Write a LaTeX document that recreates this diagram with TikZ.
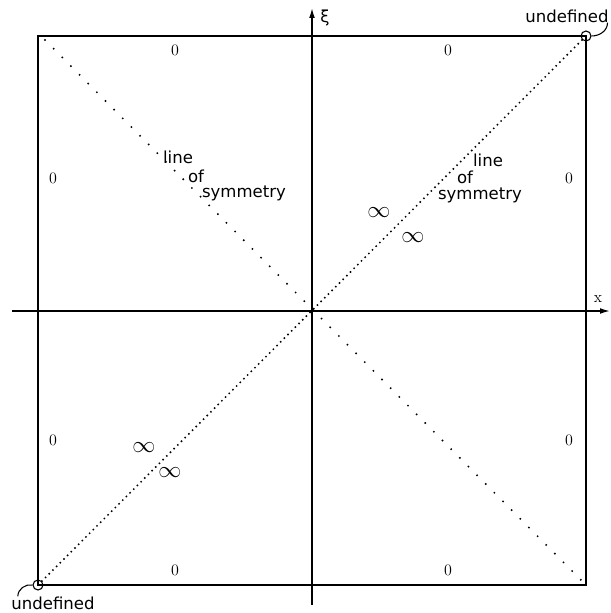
\documentclass[tikz,border=0pt]{standalone}
\usepackage{fontspec}
\newfontfamily\labelfont{DejaVu Sans}
\usetikzlibrary{arrows.meta,positioning}

\begin{document}
\begin{tikzpicture}[
  x=0.75pt, y=-0.75pt,
  val/.style={font=\fontsize{12}{14}\selectfont, inner sep=0pt},
  inf/.style={font=\fontsize{16}{18}\selectfont, inner sep=0pt},
  sym/.style={font=\labelfont\fontsize{12.4}{14}\selectfont, inner sep=0pt},
  frame/.style={line width=1.4pt},
  axis/.style={-{Latex[length=2.6mm,width=1.5mm]}, line width=1.1pt},
  diag/.style={line width=1.6pt, line cap=round, dash pattern=on 0pt off 3.9pt},
  sparse/.style={line width=1.6pt, line cap=round, dash pattern=on 0pt off 9.2pt},
  hole/.style={circle, draw, line width=0.8pt, minimum size=7.5pt, inner sep=0pt},
  link/.style={line width=0.8pt}
]
\useasboundingbox (0,0) rectangle (610,613);

% square and corners
\coordinate (tl) at (38,36);
\coordinate (br) at (586,585);
\draw[frame] (tl) rectangle (br);
\node[hole] (tr) at (586,36) {};
\node[hole] (bl) at (38,585) {};

% axes
\coordinate (W) at (12,311);
\coordinate (E) at (610,311);
\coordinate (S) at (312,605);
\coordinate (N) at (312,8);
\draw[axis] (W) -- (E);
\draw[axis] (S) -- (N);
\node[val] (xlab) at (598,299) {x};
\node[sym] (xilab) at (325,18) {ξ};

% lines of symmetry
\draw[sparse] ([shift={(7,4)}]tl) -- (br);
\draw[diag] (bl) -- (tr);

% values
\node[val] (v1) at (175,50) {0};
\node[val] (v2) at (448,50) {0};
\node[val] (v3) at (53,178) {0};
\node[val] (v4) at (569,178) {0};
\node[val] (v5) at (53,440) {0};
\node[val] (v6) at (569,440) {0};
\node[val] (v7) at (175,570) {0};
\node[val] (v8) at (448,570) {0};
\node[inf] (i1) at (379,213) {$\infty$};
\node[inf] (i2) at (413,238) {$\infty$};
\node[inf] (i3) at (144,448) {$\infty$};
\node[inf] (i4) at (170,473) {$\infty$};

% labels
\node[sym] (lineL) at (178,157) {line};
\node[sym] (ofL) at (196,176) {of};
\node[sym] (symL) at (244,193) {symmetry};
\node[sym] (lineR) at (488,160) {line};
\node[sym] (ofR) at (465,177) {of};
\node[sym] (symR) at (480,195) {symmetry};

\node[sym] (undefTR) at (567,16) {undefined};
\node[sym] (undefBL) at (53,603) {undefined};
\draw[link] (tr.east) to[out=0, in=-90] ([xshift=-1pt]undefTR.south east);
\draw[link] (bl.west) to[out=170, in=90] ([xshift=5pt]undefBL.north west);
\end{tikzpicture}
\end{document}
